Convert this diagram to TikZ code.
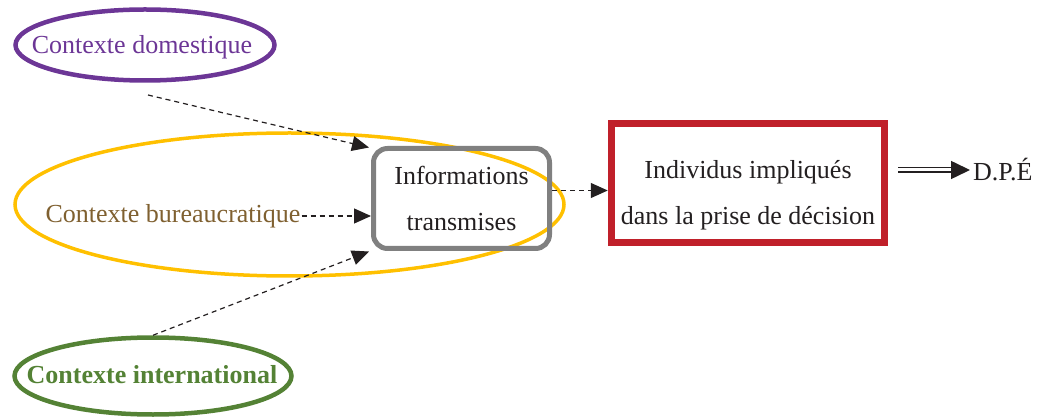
\documentclass[tikz,border=0pt]{standalone}
\usepackage{fontspec}
\setmainfont{Liberation Serif}
\usetikzlibrary{arrows.meta,shapes.geometric}
\definecolor{domcol}{HTML}{6C3696}
\definecolor{burring}{HTML}{FFC000}
\definecolor{burtext}{HTML}{7F6030}
\definecolor{intcol}{HTML}{548235}
\definecolor{infocol}{HTML}{808080}
\definecolor{deccol}{HTML}{C0202A}
\definecolor{ink}{HTML}{231F20}
\begin{document}
\begin{tikzpicture}[x=1pt,y=-1pt,
  font=\fontsize{26}{46}\selectfont, text=ink,
  ring/.style={ellipse, inner sep=0pt, line width=4.5pt},
  flow/.style={draw=ink, line width=1.2pt, dash pattern=on 5pt off 4pt,
               -{Triangle[length=17pt,width=15pt]}},
  infobox/.style={draw=infocol, line width=5pt, rounded corners=14pt,
                  minimum width=176pt, minimum height=100pt, align=center},
  decbox/.style={draw=deccol, line width=7.5pt, minimum width=273pt, minimum height=119pt},
  imply/.style={draw=ink, double, double distance=3pt, line width=1.5pt,
                -{Triangle[length=19pt,width=18pt]}}]
\useasboundingbox (0,0) rectangle (1040,419);

% surrounding contexts: rings and their labels
\node[ring, draw=domcol, minimum width=259pt, minimum height=71pt] (domring) at (145,45) {};
\node[text=domcol, inner sep=1pt] (dom) at (142,47) {Contexte domestique};
\node[ring, draw=burring, line width=3.5pt, minimum width=549pt, minimum height=143pt]
  (burring) at (289.5,204.5) {};
\node[text=burtext, inner sep=1pt] (bur) at (173,216) {Contexte bureaucratique};
\node[ring, draw=intcol, minimum width=277pt, minimum height=77pt] (intring) at (153,376) {};
\node[text=intcol, font=\fontsize{26}{46}\selectfont\bfseries, inner sep=1pt]
  (intl) at (152,375) {Contexte international};

% information and decision makers
\node[infobox] (info) at (461.5,198.5) {Informations\\transmises};
\node[decbox] (dec) at (748,183) {};
\node[align=center] (dectext) at (748,195) {Individus impliqués\\dans la prise de décision};
\node[anchor=west, inner sep=0pt] (dpe) at (973,170) {D.P.É};

% flows
\coordinate (domout) at (148,95);
\draw[flow] (domout) -- ([shift={(-2,-51)}]info.west);
\draw[flow] (bur.east) -- (info.west |- bur.east);
\draw[flow] (intring.north) -- ([shift={(-2,53)}]info.west);
\coordinate (infoout) at ([shift={(0,-8)}]info.east);
\draw[flow] (infoout) -- (dec.west |- infoout);
\draw[imply, shorten <=10pt, shorten >=3pt] (dec.east |- dpe.west) -- (dpe.west);
\end{tikzpicture}
\end{document}
